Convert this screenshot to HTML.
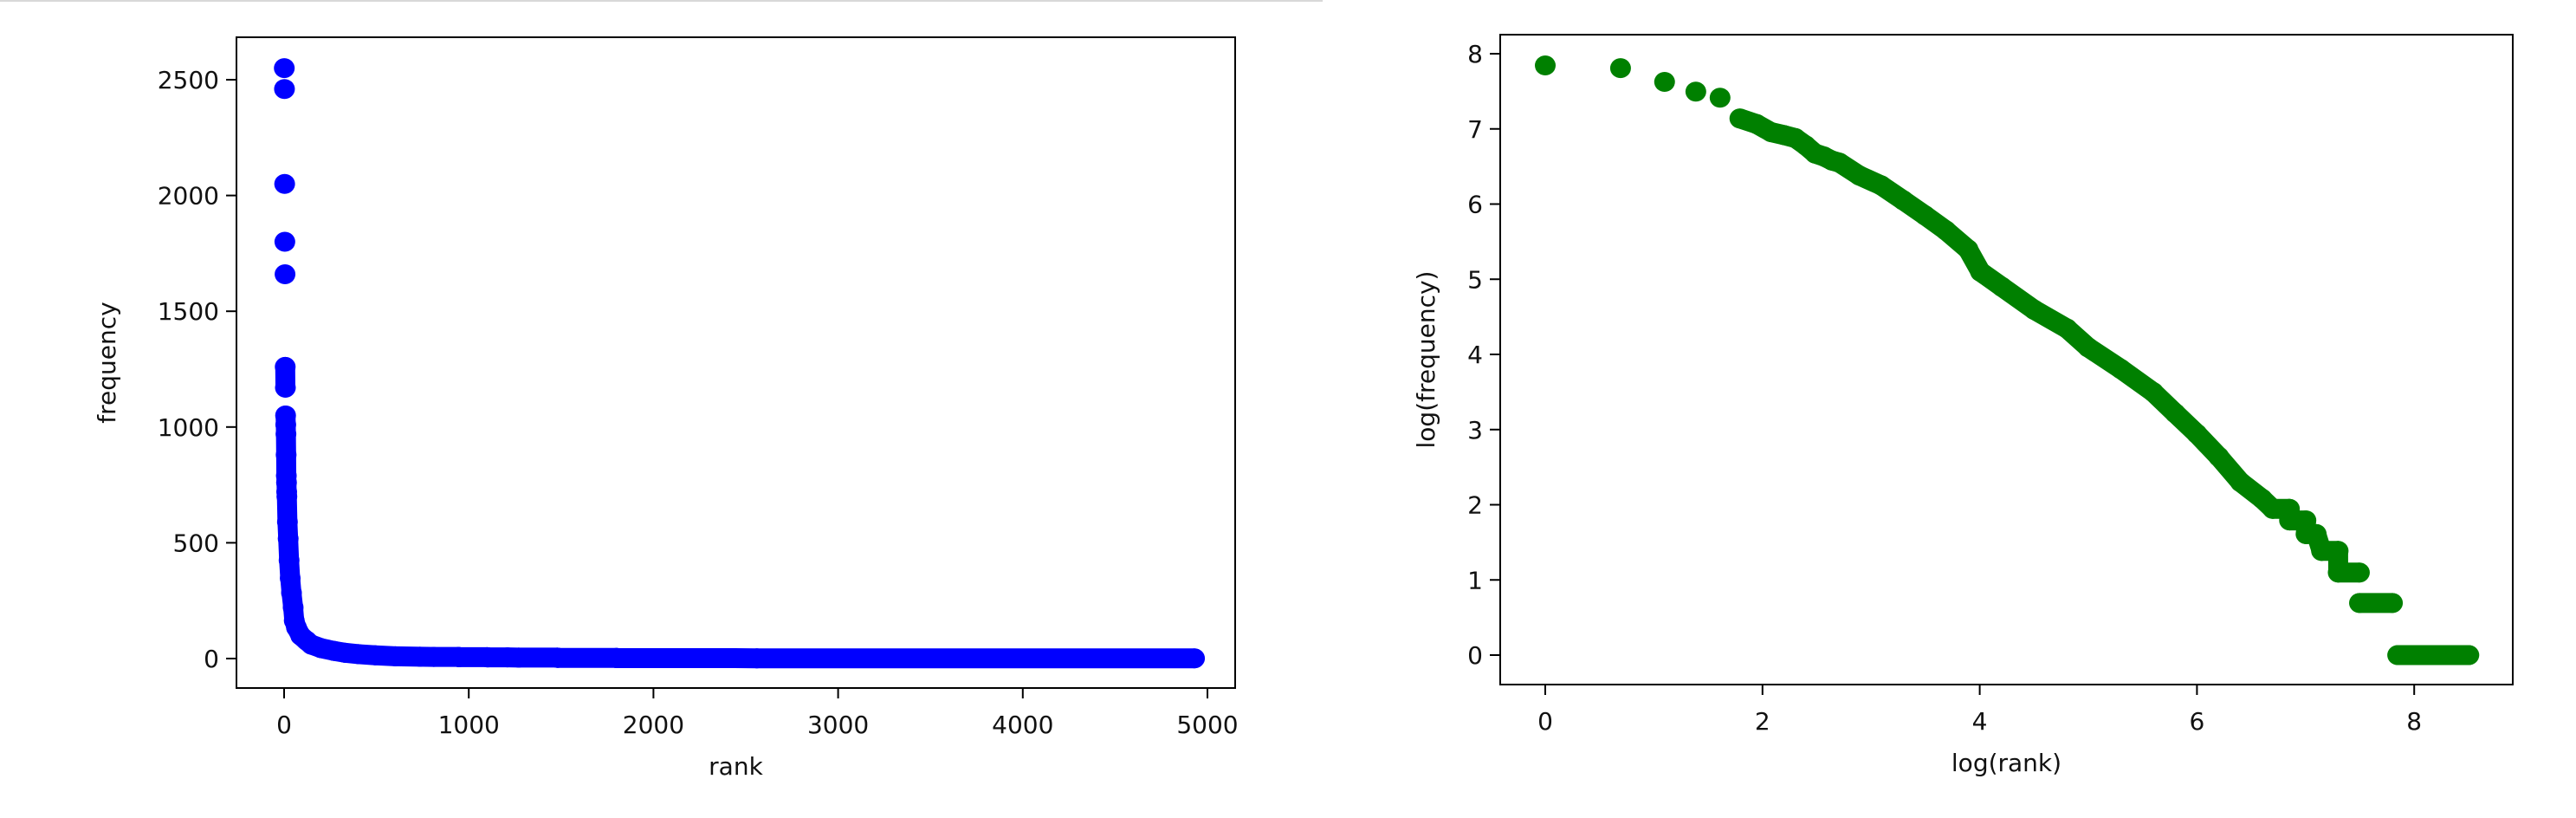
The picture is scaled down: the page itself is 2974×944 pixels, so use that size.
<!DOCTYPE html>
<html><head><meta charset="utf-8"><style>
html,body{margin:0;padding:0;background:#fff;}
svg{display:block;font-family:"DejaVu Sans","Liberation Sans",sans-serif;}
</style></head><body>
<svg id="fig" width="2974" height="944" viewBox="0 0 2974 944" xmlns="http://www.w3.org/2000/svg">
<rect x="0" y="0" width="2974" height="944" fill="#fff"/>
<line x1="0" y1="1" x2="1527" y2="1" stroke="#d8d8d8" stroke-width="2"/>
<g id="left"></g>
<g id="right"></g>
</svg>
<script>
// data: word rank and frequency (anchor points)
const ranks = [1,2,3,4,5,6,7,8,9,10,11,12,13,14,15,18,22,27,33,40,49,55,67,90,122,148,200,270,330,403,493,602,735,810,945,946,1100,1101,1210,1270,1480,1481,1800,1801,2440,2560,4930];
const freqs = [2550,2460,2050,1800,1660,1260,1170,1050,1010,970,880,790,760,720,700,590,518,424,347,284,221,164,134,99,77,60,45,33,25,19,14,10,8,7,7,6,6,5,5,4,4,3,3,2,2,1,1];
const leftXTicks = [0,1000,2000,3000,4000,5000];
const leftYTicks = [0,500,1000,1500,2000,2500];
const rightXTicks = [0,2,4,6,8];
const rightYTicks = [0,1,2,3,4,5,6,7,8];

const NS = "http://www.w3.org/2000/svg";
function mk(tag, attrs, parent){const e=document.createElementNS(NS,tag);for(const k in attrs)e.setAttribute(k,attrs[k]);parent.appendChild(e);return e;}

function drawChart(g, box, xs, ys, xTicks, yTicks, sx, sy, color, xTitle, yTitle, prefix){
  // frame
  const f = mk('rect',{x:box.l,y:box.t,width:box.r-box.l,height:box.b-box.t,fill:'none',stroke:'#000','stroke-width':2},g);
  
  
  // ticks
  xTicks.forEach(v=>{
    const x=sx(v);
    const t=mk('line',{x1:x,y1:box.b,x2:x,y2:box.b+12,stroke:'#000','stroke-width':2},g);
    
    
    const l=mk('text',{x:x,y:box.b+52,'font-size':28,'text-anchor':'middle',fill:'#111'},g);
    l.textContent=v;
    
    
  });
  yTicks.forEach(v=>{
    const y=sy(v);
    const t=mk('line',{x1:box.l-12,y1:y,x2:box.l,y2:y,stroke:'#000','stroke-width':2},g);
    
    
    const l=mk('text',{x:box.l-20,y:y+10,'font-size':28,'text-anchor':'end',fill:'#111'},g);
    l.textContent=v;
    
    
  });
  const xt=mk('text',{x:(box.l+box.r)/2,y:box.b+100,'font-size':28,'text-anchor':'middle',fill:'#111'},g);
  xt.textContent=xTitle;
  
  
  const yx=box.ytx, yy=(box.t+box.b)/2;
  const yt=mk('text',{x:yx,y:yy,'font-size':28,'text-anchor':'middle',fill:'#111',transform:`rotate(-90 ${yx} ${yy})`},g);
  yt.textContent=yTitle;
  
  
  // points + dense bands
  const pts=xs.map((v,i)=>[sx(v),sy(ys[i])]);
  for(let i=1;i<pts.length;i++){
    if(ranks[i-1]>=6 && Math.abs(pts[i][1]-pts[i-1][1])<30){
      const s=mk('line',{x1:pts[i-1][0],y1:pts[i-1][1],x2:pts[i][0],y2:pts[i][1],stroke:color,'stroke-width':23,'stroke-linecap':'round'},g);
      
      
    }
  }
  pts.forEach(p=>{
    const c=mk('ellipse',{cx:p[0],cy:p[1],rx:12,ry:11.5,fill:color},g);
    
    
  });
}

// left chart
const LB={l:273,r:1426,t:43,b:794,ytx:133};
const lsx=v=>328+(v/1000)*213.2;
const lsy=v=>760-(v/500)*133.6;
drawChart(document.getElementById('left'),LB,ranks,freqs,leftXTicks,leftYTicks,lsx,lsy,'#0000ff','rank','frequency','left');

// right chart
const RB={l:1732,r:2901,t:40,b:790,ytx:1656};
const rsx=v=>1784+v*125.4;
const rsy=v=>756-v*86.75;
drawChart(document.getElementById('right'),RB,ranks.map(r=>Math.log(r)),freqs.map(f=>Math.log(f)),rightXTicks,rightYTicks,rsx,rsy,'#008000','log(rank)','log(frequency)','right');
</script>
</body></html>
